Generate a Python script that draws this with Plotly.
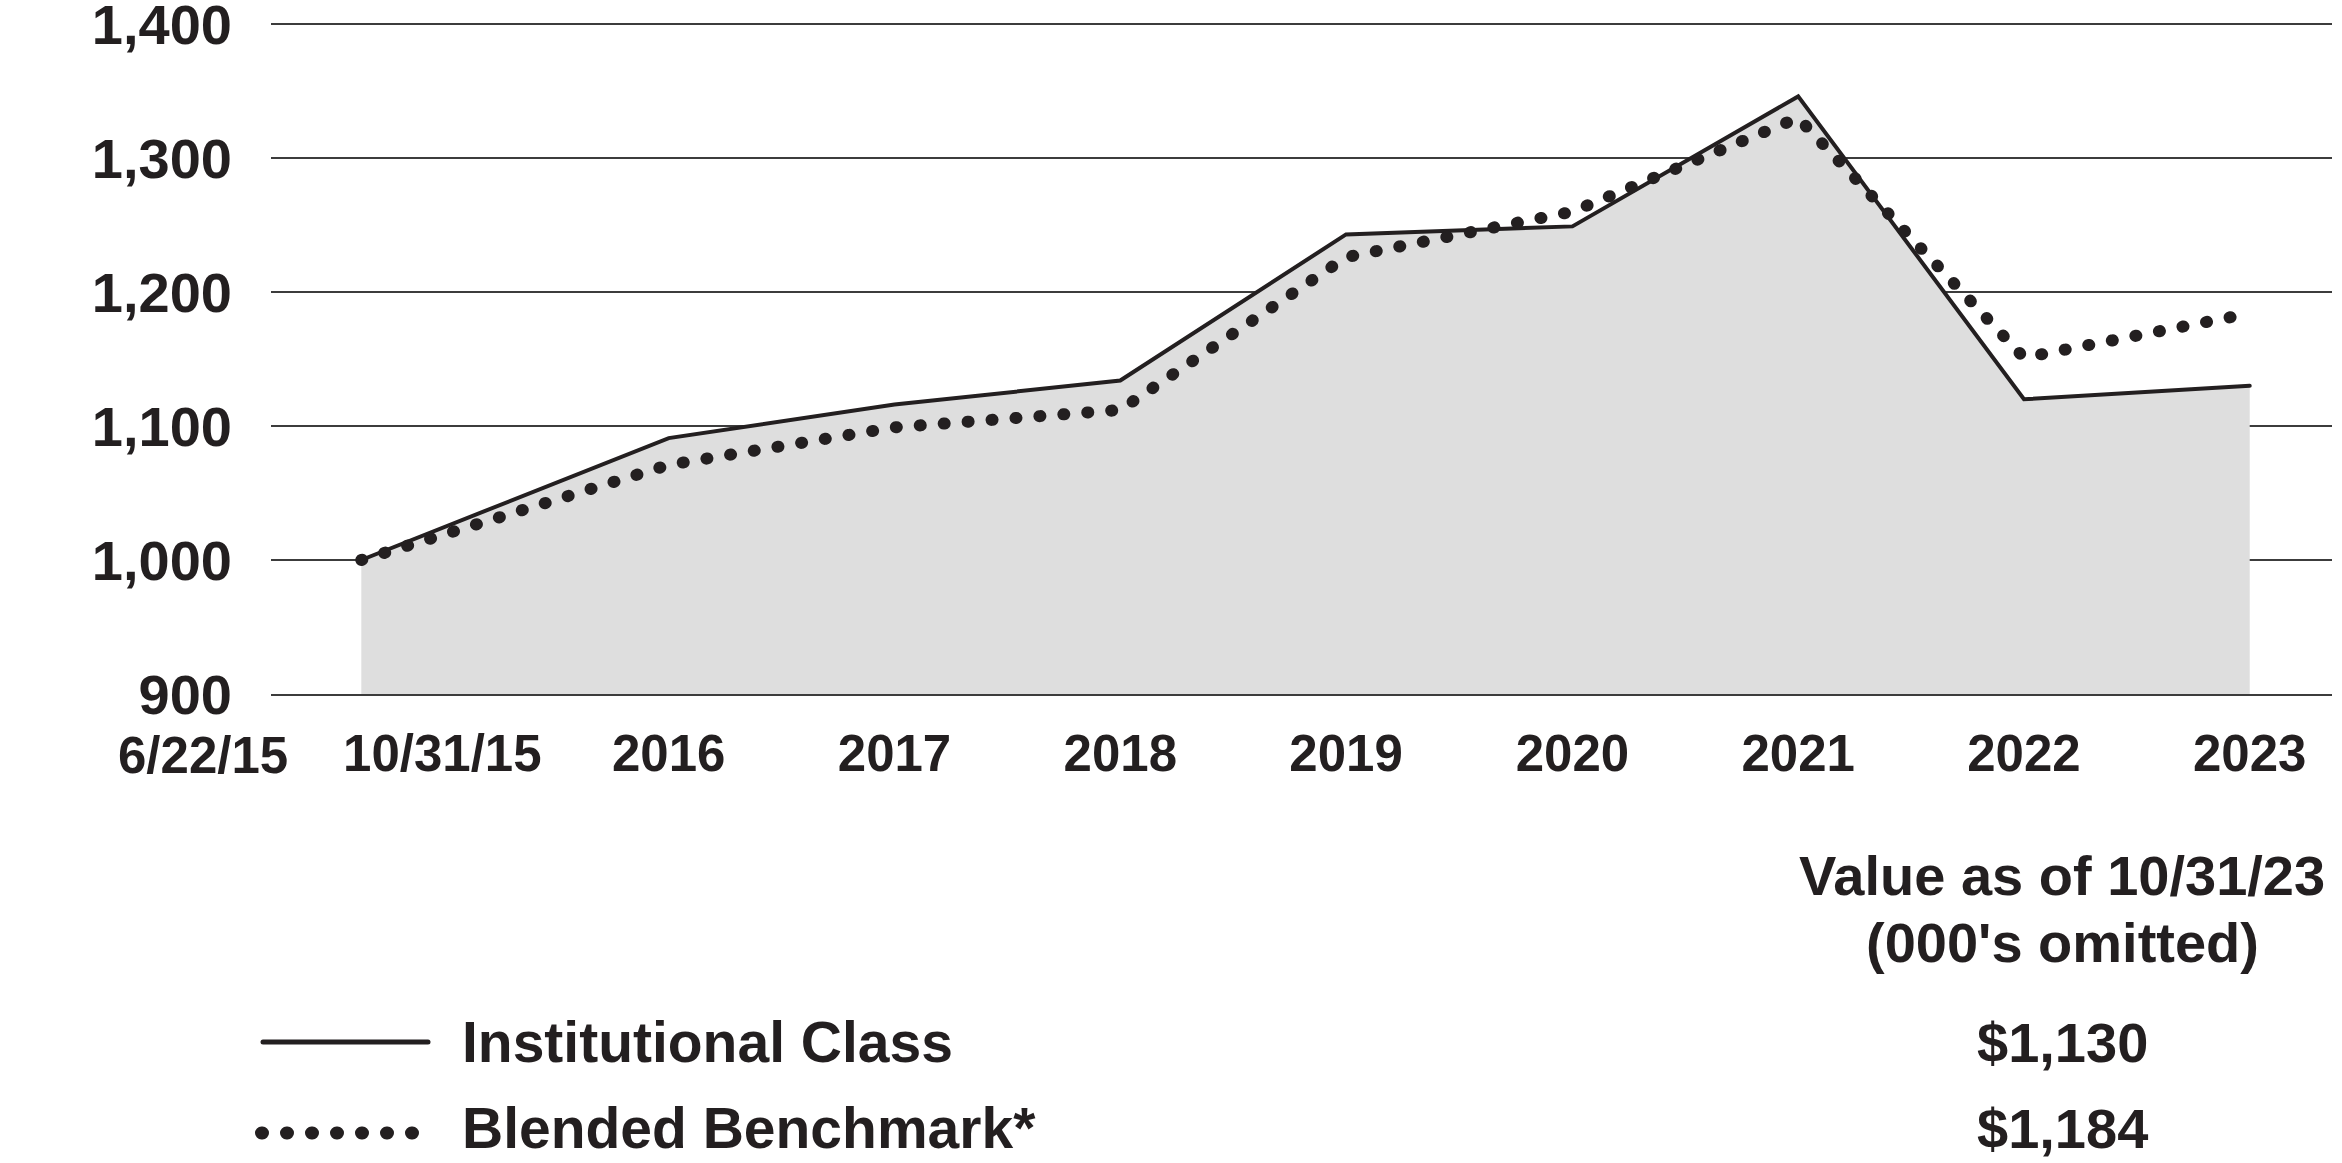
import plotly.graph_objects as go

# ---- data ----
dates = ["2015-06-22", "2016-10-31", "2017-10-31", "2018-10-31", "2019-10-31",
         "2020-10-31", "2021-10-31", "2022-10-31", "2023-10-31"]
institutional = [1000, 1091, 1116, 1134, 1243, 1249, 1346, 1120, 1130]
benchmark = [1000, 1071, 1099, 1112, 1226, 1260, 1330, 1151, 1184]

tick_dates = ["2015-10-31", "2016-10-31", "2017-10-31", "2018-10-31", "2019-10-31",
              "2020-10-31", "2021-10-31", "2022-10-31", "2023-10-31"]
tick_text = ["10/31/15", "2016", "2017", "2018", "2019", "2020", "2021", "2022", "2023"]
inception_label = "6/22/15"
y_ticks = [900, 1000, 1100, 1200, 1300, 1400]
series_names = ["Institutional Class", "Blended Benchmark*"]
end_values = ["$1,130", "$1,184"]

INK = "#231f20"
GRID = "#3c3c3c"
FONT = "Liberation Sans"
W, H = 2342, 1163
ML, MR, MT, MB = 271, 10, 23, 469
PW, PH = W - ML - MR, H - MT - MB


def px(x):
    return (x - ML) / PW


def py(y):
    return (H - MB - y) / PH


fig = go.Figure()
fig.add_trace(go.Scatter(
    x=dates, y=institutional, mode="lines", name=series_names[0],
    line=dict(color=INK, width=4), fill="tozeroy", fillcolor="#dedede",
    showlegend=False, hoverinfo="skip"))
fig.add_trace(go.Scatter(
    x=dates, y=benchmark, mode="lines", name=series_names[1],
    line=dict(color=INK, width=12, dash="1px,23px"),
    showlegend=False, hoverinfo="skip"))

fig.update_layout(
    width=W, height=H,
    margin=dict(l=ML, r=MR, t=MT, b=MB, autoexpand=False),
    paper_bgcolor="white", plot_bgcolor="white",
    font=dict(family=FONT, color=INK),
    xaxis=dict(
        type="date", range=["2015-01-27", "2024-03-12"],
        tickvals=tick_dates, ticktext=tick_text,
        tickfont=dict(size=51, family=FONT, color=INK, weight="bold"),
        showgrid=False, zeroline=False, ticks="",
        showline=True, linecolor=GRID, linewidth=2,
        ticklabelstandoff=14, automargin=False, ticklabeloverflow="allow",
    ),
    yaxis=dict(
        range=[900, 1400.8], tickvals=y_ticks, tickformat=",d",
        tickfont=dict(size=56, family=FONT, color=INK, weight="bold"),
        showgrid=True, gridcolor=GRID, gridwidth=2,
        zeroline=False, ticks="", showline=False,
        ticklabelstandoff=38, automargin=False, ticklabeloverflow="allow",
    ),
)

ann = []
ann.append(dict(text=inception_label, x=px(290), y=py(755), xref="paper", yref="paper",
                xanchor="right", yanchor="middle", showarrow=False,
                font=dict(size=51, family=FONT, color=INK, weight="bold")))
for name, val, yy in zip(series_names, end_values, [1042, 1128]):
    ann.append(dict(text=name, x=px(460), y=py(yy), xref="paper", yref="paper",
                    xanchor="left", yanchor="middle", showarrow=False,
                    font=dict(size=57, family=FONT, color=INK, weight="bold")))
    ann.append(dict(text=val, x=px(2062), y=py(yy), xref="paper", yref="paper",
                    xanchor="center", yanchor="middle", showarrow=False,
                    font=dict(size=56, family=FONT, color=INK, weight="bold")))
ann.append(dict(text="Value as of 10/31/23", x=px(2062), y=py(875), xref="paper", yref="paper",
                xanchor="center", yanchor="middle", showarrow=False,
                font=dict(size=56, family=FONT, color=INK, weight="bold")))
ann.append(dict(text="(000's omitted)", x=px(2062), y=py(943), xref="paper", yref="paper",
                xanchor="center", yanchor="middle", showarrow=False,
                font=dict(size=56, family=FONT, color=INK, weight="bold")))
fig.update_layout(annotations=ann)

fig.add_shape(type="line", xref="paper", yref="paper",
              x0=px(263), x1=px(428), y0=py(1042), y1=py(1042),
              line=dict(color=INK, width=5))
fig.add_shape(type="line", xref="paper", yref="paper",
              x0=px(261.5), x1=px(420), y0=py(1133), y1=py(1133),
              line=dict(color=INK, width=13, dash="1px,24px"))

post = ("document.body.style.margin='0';"
        "document.body.style.overflow='hidden';"
        "var s=document.createElement('style');"
        "s.innerHTML='.js-line, .shapelayer path{stroke-linecap:round !important;}';"
        "document.head.appendChild(s);")
fig.write_html("out.html", post_script=post, config={"displayModeBar": False})
